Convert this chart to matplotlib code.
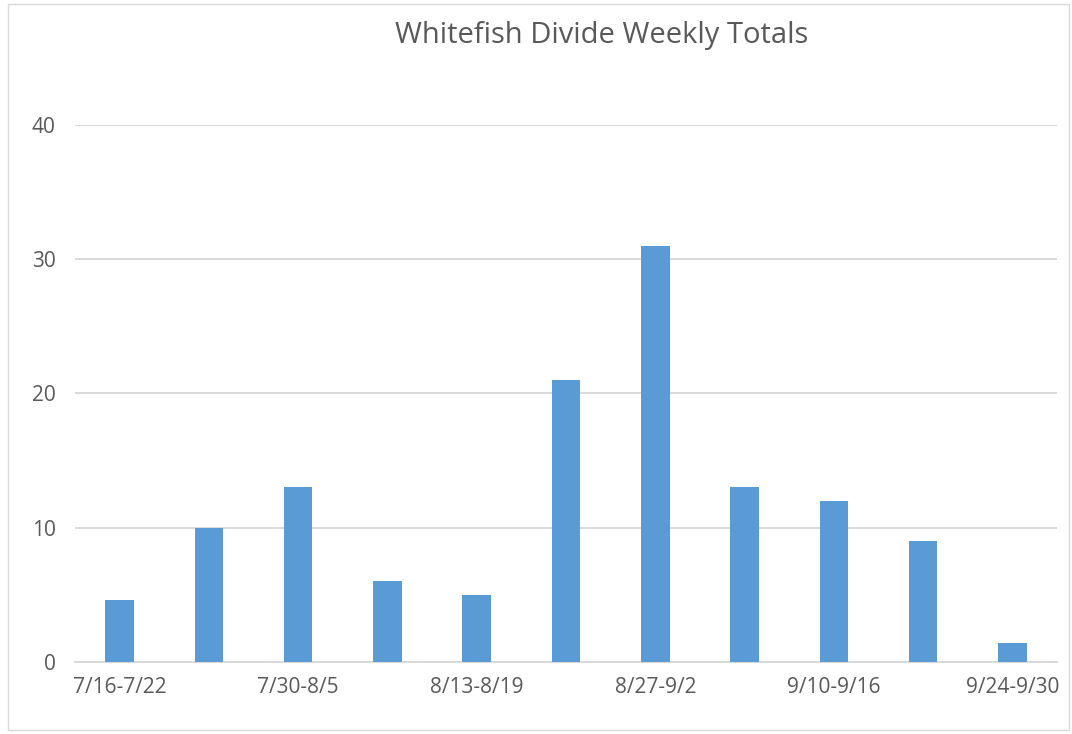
import matplotlib.pyplot as plt
import matplotlib.patches as patches
import numpy as np

# Weekly totals
weeks = ["7/16-7/22", "7/23-7/29", "7/30-8/5", "8/6-8/12", "8/13-8/19", "8/20-8/26",
         "8/27-9/2", "9/3-9/9", "9/10-9/16", "9/17-9/23", "9/24-9/30"]
totals = [4.6, 10, 13, 6, 5, 21, 31, 13, 12, 9, 1.4]

plt.rcParams['font.family'] = ['Open Sans', 'DejaVu Sans']
text_color = '#595959'

fig = plt.figure(figsize=(10.72, 7.34), dpi=100)
ax = fig.add_axes([0.07, 0.098, 0.916, 0.732])

x = np.arange(len(weeks))
ax.bar(x, totals, width=0.32, color='#5B9BD5', zorder=3)

ax.set_xlim(-0.5, len(weeks) - 0.5)
ax.set_ylim(0, 40)
ax.set_yticks([0, 10, 20, 30, 40])
ax.set_xticks(x)
ax.set_xticklabels([w if i % 2 == 0 else "" for i, w in enumerate(weeks)])
ax.tick_params(axis='both', length=0, labelsize=15, colors=text_color)
ax.tick_params(axis='x', pad=11)
ax.tick_params(axis='y', pad=14)
ax.grid(axis='y', color='#D9D9D9', linewidth=1.4, zorder=0)
for s in ['top', 'right', 'left']:
    ax.spines[s].set_visible(False)
ax.spines['bottom'].set_color('#D9D9D9')
ax.spines['bottom'].set_linewidth(1.4)

fig.text(0.561, 0.952, "Whitefish Divide Weekly Totals", ha='center', va='center',
         fontsize=21, color=text_color)

# chart area border
fig.patches.append(patches.Rectangle((0.007, 0.005), 0.99, 0.99, transform=fig.transFigure,
                                     fill=False, edgecolor='#D9D9D9', linewidth=1))

fig.savefig("out.png", dpi=100)
